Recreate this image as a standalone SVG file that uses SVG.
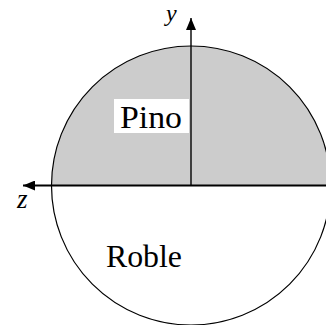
<svg xmlns="http://www.w3.org/2000/svg" width="326" height="325" viewBox="0 0 326 325">
<style>
text{font-family:'Liberation Serif','Times New Roman',serif;fill:#000}
.it{font-style:italic}
.ax{stroke:#000;fill:none}
</style>
<defs>
<marker id="ah" markerWidth="12" markerHeight="10" refX="12" refY="5" orient="auto" markerUnits="userSpaceOnUse">
<path d="M0,0 L12,5 L0,10 Z" fill="#000"/>
</marker>
</defs>
<g id="section">
<path d="M51.5,185.5 A139.5,139.5 0 0 1 330.5,185.5 Z" fill="#cccccc"/>
<circle cx="191" cy="185.5" r="139.5" fill="none" stroke="#000" stroke-width="1.2"/>
</g>
<g id="connectors">
<line class="ax" x1="326" y1="185.5" x2="23" y2="185.5" stroke-width="2" marker-end="url(#ah)"/>
<line class="ax" x1="191" y1="185.5" x2="191" y2="18" stroke-width="1.4" marker-end="url(#ah)"/>
</g>
<g id="pino">
<rect x="114" y="99" width="75" height="34" fill="#fff"/>
<text x="120" y="127.5" font-size="31" textLength="62" lengthAdjust="spacingAndGlyphs">Pino</text>
</g>
<g id="roble">
<text x="106" y="267" font-size="31" textLength="76" lengthAdjust="spacingAndGlyphs">Roble</text>
</g>
<g id="axis-labels">
<text class="it" x="166" y="21" font-size="24">y</text>
<text class="it" x="17" y="208" font-size="27">z</text>
</g>
</svg>
